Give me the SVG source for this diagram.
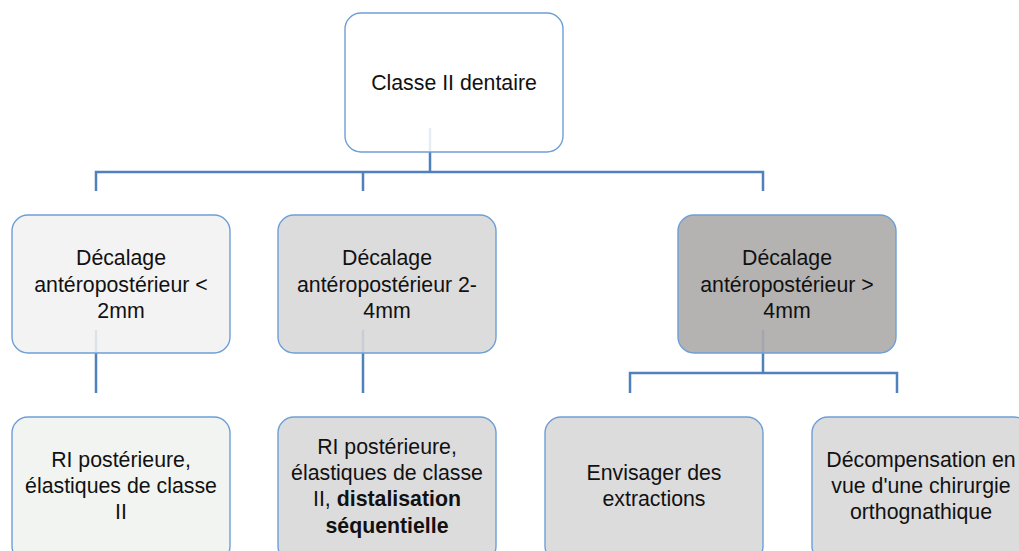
<svg xmlns="http://www.w3.org/2000/svg" width="1019" height="551" viewBox="0 0 1019 551">
<style>
.box{stroke:#6d9fd7;stroke-width:1.4}
.t{font-family:"Liberation Sans",Arial,sans-serif;font-size:21.3px;fill:#111;text-anchor:middle}
.b{font-weight:bold}
.c{fill:none;stroke:#4f81bd;stroke-width:2.5}
.f{fill:none;stroke-width:2.5}
</style>
<rect width="1019" height="551" fill="#ffffff"/>
<g id="connectors">
<path class="c" d="M430,152 V172 M96,191 V172 H763 V191 M363,172 V191"/>
<path class="c" d="M96,353 V393 M363,353 V393"/>
<path class="c" d="M763,353 V373 M630,393 V373 H897 V393"/>
</g>
<g id="n0">
<rect class="box" x="345" y="13" width="218" height="139" rx="16" fill="#ffffff"/>
<line class="f" x1="430" y1="128" x2="430" y2="151" stroke="#e6ecf3"/>
<text class="t" x="454" y="89.5">Classe II dentaire</text>
</g>
<g id="n1">
<rect class="box" x="12" y="215" width="218" height="138" rx="16" fill="#f3f3f3"/>
<line class="f" x1="96" y1="330" x2="96" y2="352" stroke="#dde2e8"/>
<text class="t" x="121" y="265">Décalage</text>
<text class="t" x="121" y="291.7">antéropostérieur &lt;</text>
<text class="t" x="121" y="318.3">2mm</text>
</g>
<g id="n2">
<rect class="box" x="278" y="215" width="218" height="138" rx="16" fill="#dcdcdc"/>
<line class="f" x1="363" y1="330" x2="363" y2="352" stroke="#c9ced6"/>
<text class="t" x="387" y="265">Décalage</text>
<text class="t" x="387" y="291.7">antéropostérieur 2-</text>
<text class="t" x="387" y="318.3">4mm</text>
</g>
<g id="n3">
<rect class="box" x="678" y="215" width="218" height="138" rx="16" fill="#b4b3b2"/>
<line class="f" x1="763" y1="330" x2="763" y2="352" stroke="#a2a6ad"/>
<text class="t" x="787" y="265">Décalage</text>
<text class="t" x="787" y="291.7">antéropostérieur &gt;</text>
<text class="t" x="787" y="318.3">4mm</text>
</g>
<g id="n4">
<rect class="box" x="12" y="417" width="218" height="145" rx="16" fill="#f2f4f2"/>
<text class="t" x="121" y="467.3">RI postérieure,</text>
<text class="t" x="121" y="493.3">élastiques de classe</text>
<text class="t" x="121" y="519.3">II</text>
</g>
<g id="n5">
<rect class="box" x="278" y="417" width="218" height="145" rx="16" fill="#dcdcdc"/>
<text class="t" x="387" y="454">RI postérieure,</text>
<text class="t" x="387" y="480">élastiques de classe</text>
<text class="t" x="387" y="506.3">II, <tspan class="b">distalisation</tspan></text>
<text class="t b" x="387" y="532.5">séquentielle</text>
</g>
<g id="n6">
<rect class="box" x="545" y="417" width="218" height="145" rx="16" fill="#dcdcdc"/>
<text class="t" x="654" y="480">Envisager des</text>
<text class="t" x="654" y="506.3">extractions</text>
</g>
<g id="n7">
<rect class="box" x="812" y="417" width="218" height="145" rx="16" fill="#dcdcdc"/>
<text class="t" x="921" y="467.3">Décompensation en</text>
<text class="t" x="921" y="493.3">vue d'une chirurgie</text>
<text class="t" x="921" y="519.3">orthognathique</text>
</g>
</svg>
